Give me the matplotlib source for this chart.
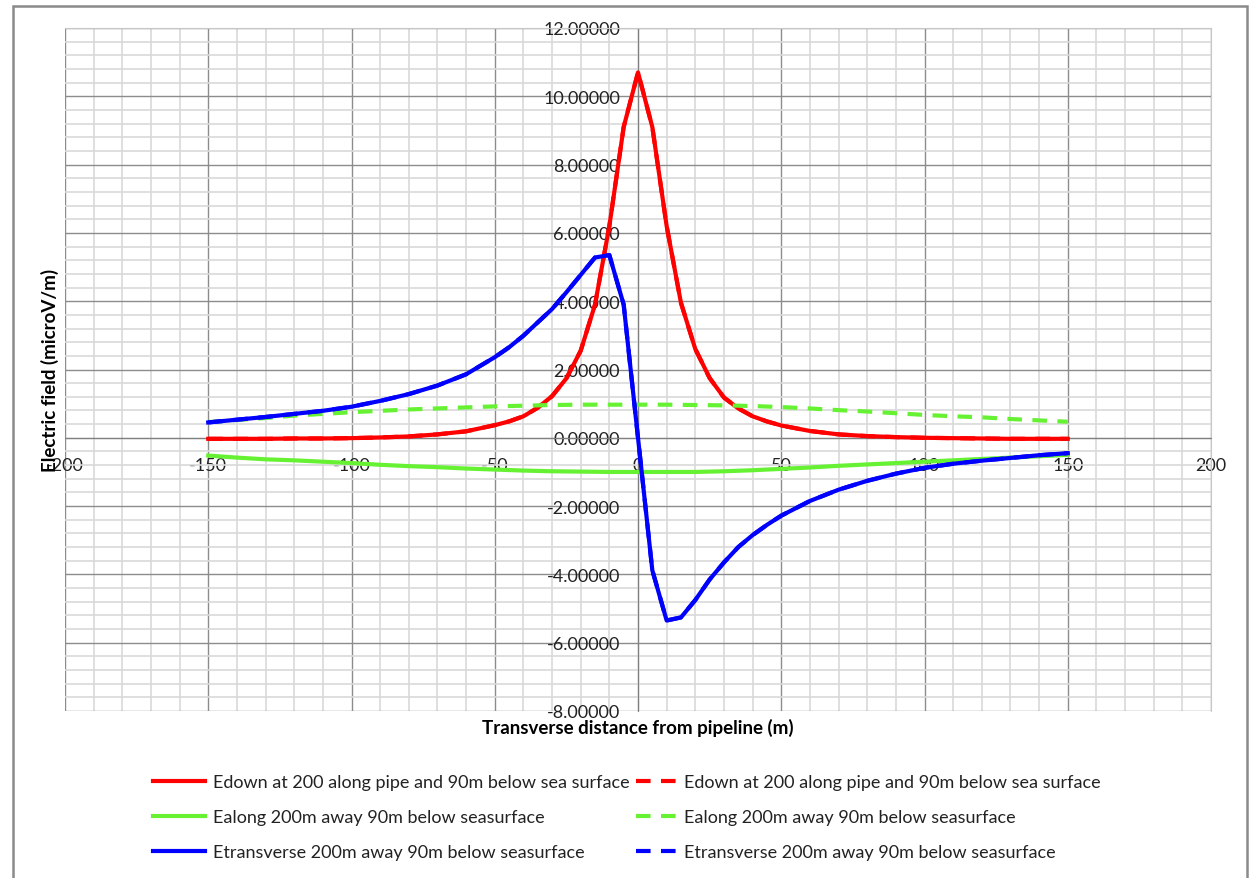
import matplotlib
matplotlib.use("Agg")
import matplotlib.pyplot as plt
from matplotlib.ticker import MultipleLocator, FormatStrFormatter
from matplotlib.patches import Rectangle

plt.rcParams['font.family'] = ['Lato', 'DejaVu Sans']

# ---- data ----
x_main = [-150, -140, -130, -120, -110, -100, -90, -80, -70, -60, -50, -45, -40, -35, -30,
          -25, -20, -15, -10, -5, 0, 5, 10, 15, 20, 25, 30, 35, 40, 45, 50, 60, 70, 80,
          90, 100, 110, 120, 130, 140, 150]
edown = [-0.03, -0.03, -0.03, -0.02, -0.02, -0.01, 0.01, 0.04, 0.10, 0.19, 0.37, 0.48, 0.63,
         0.88, 1.22, 1.74, 2.55, 3.90, 6.20, 9.10, 10.70, 9.10, 6.20, 3.95, 2.60, 1.75, 1.18,
         0.86, 0.63, 0.48, 0.36, 0.20, 0.10, 0.05, 0.02, 0.00, -0.01, -0.02, -0.03, -0.03, -0.03]
etrans = [0.45, 0.53, 0.61, 0.70, 0.79, 0.91, 1.08, 1.28, 1.53, 1.86, 2.36, 2.65, 2.99, 3.38,
          3.77, 4.26, 4.77, 5.28, 5.35, 3.90, 0.00, -3.88, -5.35, -5.26, -4.75, -4.15, -3.65,
          -3.20, -2.85, -2.55, -2.28, -1.85, -1.52, -1.26, -1.05, -0.88, -0.76, -0.67, -0.59,
          -0.51, -0.45]
x_green = [-150, -140, -130, -120, -110, -100, -90, -80, -70, -60, -50, -40, -30, -20, -10, 0,
           10, 20, 30, 40, 50, 60, 70, 80, 90, 100, 110, 120, 130, 140, 150]
ealong = [-0.52, -0.58, -0.63, -0.66, -0.70, -0.74, -0.79, -0.83, -0.86, -0.90, -0.93, -0.96,
          -0.98, -0.99, -1.00, -1.00, -1.00, -1.00, -0.98, -0.95, -0.91, -0.87, -0.82, -0.78,
          -0.74, -0.70, -0.66, -0.62, -0.58, -0.54, -0.50]
ealong_d = [0.46, 0.52, 0.58, 0.65, 0.70, 0.75, 0.79, 0.83, 0.86, 0.89, 0.92, 0.94, 0.96, 0.97,
            0.97, 0.97, 0.97, 0.96, 0.95, 0.93, 0.90, 0.86, 0.81, 0.77, 0.72, 0.67, 0.63, 0.60,
            0.55, 0.51, 0.47]

lab_down = "Edown at 200 along pipe and 90m below sea surface"
lab_along = "Ealong 200m away 90m below seasurface"
lab_trans = "Etransverse 200m away 90m below seasurface"

RED = "#ff0000"
GREEN = "#66f233"
BLUE = "#0000ff"

fig = plt.figure(figsize=(12.5, 8.79), dpi=100)
ax = fig.add_axes([65/1250, 1-712/879, (1211-65)/1250, (712-29)/879])

ax.set_xlim(-200, 200)
ax.set_ylim(-8, 12)
ax.xaxis.set_major_locator(MultipleLocator(50))
ax.xaxis.set_minor_locator(MultipleLocator(10))
ax.yaxis.set_major_locator(MultipleLocator(2))
ax.yaxis.set_minor_locator(MultipleLocator(0.4))
ax.yaxis.set_major_formatter(FormatStrFormatter('%.5f'))
ax.xaxis.set_major_formatter(FormatStrFormatter('%d'))
ax.grid(which='minor', color='#d9d9d9', linewidth=1.2, zorder=0)
ax.grid(which='major', color='#8c8c8c', linewidth=1.0, zorder=0)
ax.set_axisbelow(True)

for s in ['top', 'right']:
    ax.spines[s].set_color('#c8c8c8')
ax.spines['left'].set_position(('data', 0))
ax.spines['bottom'].set_position(('data', 0))
ax.spines['left'].set_color('#808080')
ax.spines['bottom'].set_color('#808080')
ax.tick_params(which='both', length=0)
ax.tick_params(axis='y', pad=13, labelsize=13, labelcolor='#222222')
ax.tick_params(axis='x', pad=14, labelsize=13, labelcolor='#222222')

lw = 3.0
dash = (0, (3.5, 2.5))
h1, = ax.plot(x_main, edown, color=RED, lw=lw, zorder=3)
h2, = ax.plot(x_main, edown, color=RED, lw=lw, ls=dash, zorder=3)
h3, = ax.plot(x_green, ealong, color=GREEN, lw=lw, zorder=3)
h4, = ax.plot(x_green, ealong_d, color=GREEN, lw=lw, ls=dash, zorder=3)
h5, = ax.plot(x_main, etrans, color=BLUE, lw=lw, zorder=3)
h6, = ax.plot(x_main, etrans, color=BLUE, lw=lw, ls=dash, zorder=3)

fig.text(638/1250, 1-728/879, "Transverse distance from pipeline (m)", ha='center', va='center',
         fontsize=13.5, fontweight='bold')
fig.text(50/1250, 1-370/879, "Electric field (microV/m)", ha='center', va='center',
         rotation=90, fontsize=13.5, fontweight='bold')

common = dict(ncol=1, loc='upper left', frameon=False, fontsize=13, handletextpad=0.45,
              labelspacing=1.05, borderpad=0, borderaxespad=0)
leg1 = fig.legend([h1, h3, h5], [lab_down, lab_along, lab_trans],
                  bbox_to_anchor=(153/1250, 1-775/879), handlelength=2.9, **common)
leg2 = fig.legend([h2, h4, h6], [lab_down, lab_along, lab_trans],
                  bbox_to_anchor=(636/1250, 1-775/879), handlelength=2.2, **common)
for lg in (leg1, leg2):
    for t in lg.get_texts():
        t.set_color('#222222')

fig.patches.append(Rectangle((13/1250, -0.02), (1247-13)/1250, 1-7/879+0.02,
                             transform=fig.transFigure, fill=False, edgecolor='#8a8a8a',
                             linewidth=1.8))

fig.savefig("out.png", dpi=100)
